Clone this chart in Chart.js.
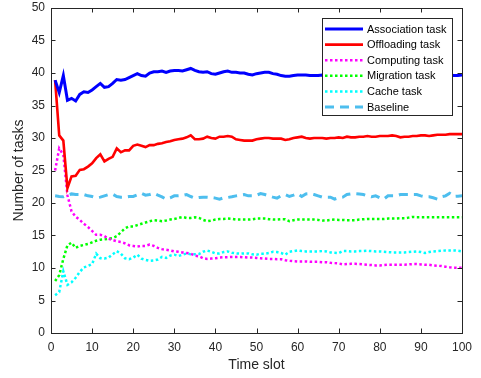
<!DOCTYPE html>
<html>
<head>
<meta charset="utf-8">
<script src="https://cdn.jsdelivr.net/npm/chart.js@4.4.1/dist/chart.umd.min.js"></script>
<style>
  html, body { margin: 0; padding: 0; background: #fff; }
  #wrap { width: 481px; height: 378px; position: relative; }
</style>
</head>
<body>
<div id="wrap"><canvas id="taskChart"></canvas></div>
<script>
// ── DATA ─────────────────────────────────────────────────────────────
const timeSlots = Array.from({ length: 100 }, (_, i) => i + 1);
const xTicks = [0, 10, 20, 30, 40, 50, 60, 70, 80, 90, 100];
const yTicks = [0, 5, 10, 15, 20, 25, 30, 35, 40, 45, 50];

const associationTask = [
  38.9, 37.0, 39.6, 35.8, 36.1, 35.7, 36.7, 37.1, 37.0, 37.4,
  37.9, 38.4, 37.8, 37.9, 38.4, 39.0, 38.9, 39.0, 39.3, 39.6,
  39.9, 39.6, 39.5, 40.0, 40.2, 40.2, 40.3, 40.1, 40.3, 40.4,
  40.4, 40.3, 40.5, 40.7, 40.4, 40.2, 40.1, 40.2, 39.9, 39.8,
  40.0, 40.2, 40.3, 40.1, 40.1, 40.0, 40.0, 39.8, 39.7, 39.9,
  40.0, 40.1, 40.1, 39.9, 39.8, 39.6, 39.5, 39.5, 39.6, 39.7,
  39.7, 39.7, 39.6, 39.6, 39.6, 39.7, 39.6, 39.7, 39.8, 39.7,
  39.6, 39.6, 39.7, 39.8, 39.7, 39.6, 39.7, 39.7, 39.8, 39.7,
  39.6, 39.7, 39.7, 39.6, 39.7, 39.8, 39.7, 39.6, 39.6, 39.7,
  39.7, 39.6, 39.7, 39.7, 39.6, 39.6, 39.7, 39.6, 39.6, 39.7
];
const offloadingTask = [
  38.9, 30.4, 29.6, 22.3, 24.1, 24.2, 25.1, 25.2, 25.6, 26.1,
  26.9, 27.5, 26.4, 26.8, 27.1, 28.4, 27.8, 28.1, 28.1, 28.8,
  29.0, 28.8, 28.6, 28.9, 28.9, 29.1, 29.2, 29.4, 29.5, 29.7,
  29.8, 29.9, 30.1, 30.4, 29.8, 29.8, 29.9, 30.2, 30.0, 29.9,
  30.2, 30.2, 30.3, 30.2, 29.8, 29.7, 29.6, 29.6, 29.6, 29.8,
  29.9, 30.0, 30.0, 29.9, 29.9, 29.9, 29.7, 29.8, 30.0, 30.1,
  30.2, 30.0, 29.9, 30.0, 30.0, 30.0, 29.9, 30.0, 30.0, 30.1,
  30.0, 30.2, 30.1, 30.1, 30.2, 30.2, 30.3, 30.2, 30.2, 30.3,
  30.3, 30.3, 30.4, 30.3, 30.1, 30.2, 30.2, 30.3, 30.3, 30.4,
  30.4, 30.3, 30.4, 30.5, 30.5, 30.5, 30.6, 30.6, 30.6, 30.6
];
const computingTask = [
  25.0, 28.4, 27.4, 21.2, 18.7, 17.9, 17.4, 16.8, 16.3, 15.7,
  15.1, 15.1, 14.9, 14.5, 14.3, 14.1, 14.0, 13.8, 13.5, 13.4,
  13.3, 13.4, 13.4, 13.6, 13.4, 13.1, 12.9, 12.8, 12.7, 12.55,
  12.5, 12.4, 12.3, 12.2, 11.9, 11.8, 11.5, 11.4, 11.45, 11.5,
  11.6, 11.65, 11.65, 11.7, 11.7, 11.7, 11.65, 11.6, 11.6, 11.55,
  11.5, 11.45, 11.4, 11.4, 11.35, 11.35, 11.2, 11.1, 11.05, 11.0,
  11.0, 11.0, 10.95, 10.95, 10.95, 10.9, 10.9, 10.8, 10.75, 10.7,
  10.55, 10.6, 10.65, 10.65, 10.6, 10.55, 10.5, 10.45, 10.4, 10.4,
  10.45, 10.5, 10.5, 10.5, 10.5, 10.5, 10.55, 10.6, 10.6, 10.55,
  10.5, 10.5, 10.4, 10.35, 10.3, 10.2, 10.1, 10.05, 10.05, 10.05
];
const migrationTask = [
  8.0, 8.9, 11.4, 13.5, 13.9, 13.1, 13.4, 13.55, 13.7, 13.95,
  14.2, 14.35, 14.4, 14.5, 14.6, 14.9, 15.5, 16.1, 16.4, 16.4,
  16.6, 16.8, 17.0, 17.2, 17.35, 17.3, 17.2, 17.3, 17.45, 17.55,
  17.7, 17.85, 17.7, 17.7, 17.8, 17.7, 17.4, 17.2, 17.3, 17.45,
  17.55, 17.55, 17.6, 17.55, 17.45, 17.45, 17.45, 17.45, 17.5, 17.6,
  17.6, 17.6, 17.5, 17.45, 17.45, 17.5, 17.5, 17.2, 17.35, 17.45,
  17.45, 17.45, 17.45, 17.45, 17.4, 17.3, 17.3, 17.4, 17.45, 17.4,
  17.4, 17.35, 17.35, 17.35, 17.45, 17.5, 17.55, 17.55, 17.55, 17.55,
  17.55, 17.6, 17.6, 17.6, 17.65, 17.65, 17.75, 17.85, 17.8, 17.8,
  17.8, 17.8, 17.8, 17.8, 17.8, 17.8, 17.8, 17.8, 17.8, 17.8
];
const cacheTask = [
  5.8, 6.3, 9.5, 7.4, 7.8, 8.5, 9.4, 10.1, 10.3, 10.6,
  12.2, 11.5, 11.45, 11.6, 12.1, 12.6, 12.2, 11.5, 11.35, 11.6,
  12.05, 11.45, 11.25, 11.1, 11.15, 11.3, 11.7, 11.55, 11.9, 12.05,
  11.85, 12.05, 12.25, 12.1, 12.1, 12.15, 12.5, 12.7, 12.5, 12.25,
  12.25, 12.45, 12.55, 12.35, 12.25, 12.2, 12.25, 12.25, 12.1, 12.05,
  12.2, 12.2, 12.3, 12.5, 12.45, 12.3, 12.05, 12.5, 12.6, 12.7,
  12.6, 12.55, 12.55, 12.55, 12.55, 12.6, 12.55, 12.4, 12.35, 12.3,
  12.6, 12.6, 12.55, 12.55, 12.6, 12.6, 12.65, 12.6, 12.55, 12.55,
  12.5, 12.45, 12.4, 12.4, 12.4, 12.4, 12.45, 12.5, 12.55, 12.45,
  12.3, 12.45, 12.55, 12.6, 12.65, 12.7, 12.7, 12.7, 12.65, 12.55
];
const baseline = [
  21.1, 21.0, 20.95, 21.2, 21.4, 21.3, 21.3, 21.3, 21.1, 21.0,
  20.8, 20.9, 21.1, 21.3, 21.35, 21.0, 20.9, 20.9, 21.0, 21.0,
  21.25, 21.5, 21.2, 21.3, 21.5, 21.2, 20.95, 20.6, 20.8, 21.1,
  21.1, 21.15, 21.3, 21.0, 20.75, 20.85, 20.9, 20.9, 20.85, 20.75,
  20.6, 20.8, 20.85, 20.95, 21.1, 21.2, 21.3, 21.1, 21.1, 21.2,
  21.45, 21.3, 21.1, 20.9, 20.75, 21.1, 21.3, 21.0, 21.2, 21.45,
  21.0, 21.4, 21.45, 21.3, 21.1, 20.9, 20.9, 20.9, 20.6, 20.8,
  20.9, 21.3, 21.4, 21.45, 21.4, 21.3, 21.1, 20.95, 21.1, 20.8,
  20.6, 21.1, 21.1, 21.1, 21.3, 21.3, 21.3, 21.3, 21.3, 21.1,
  20.95, 20.95, 20.8, 20.6, 20.95, 21.1, 21.5, 21.0, 21.05, 21.1
];

// ── STYLE ────────────────────────────────────────────────────────────
const FONT = '"Liberation Sans", Arial, Helvetica, sans-serif';
const AXIS_COLOR = '#262626';
const DOT = [2.5, 2.5];

const toPoints = vals => vals.map((v, i) => ({ x: timeSlots[i], y: v }));

const datasets = [
  { label: 'Association task', data: toPoints(associationTask), borderColor: '#0000ff', borderWidth: 3, borderDash: [] },
  { label: 'Offloading task',  data: toPoints(offloadingTask),  borderColor: '#ff0000', borderWidth: 2.6, borderDash: [] },
  { label: 'Computing task',   data: toPoints(computingTask),   borderColor: '#ff00ff', borderWidth: 2.5, borderDash: DOT },
  { label: 'Migration task',   data: toPoints(migrationTask),   borderColor: '#00ff00', borderWidth: 2.5, borderDash: DOT },
  { label: 'Cache task',       data: toPoints(cacheTask),       borderColor: '#00ffff', borderWidth: 2.5, borderDash: DOT },
  { label: 'Baseline',         data: toPoints(baseline),        borderColor: '#4dbeee', borderWidth: 3, borderDash: [9, 6] },
].map(d => ({ ...d, pointRadius: 0, tension: 0, fill: false }));

// inward tick marks and the axes box, drawn over the lines
const boxTicks = {
  id: 'boxTicks',
  afterDatasetsDraw(chart) {
    const { ctx, chartArea: a, scales: { x, y } } = chart;
    const len = 4.5;
    ctx.save();
    ctx.strokeStyle = AXIS_COLOR;
    ctx.lineWidth = 1;
    ctx.beginPath();
    xTicks.forEach(v => {
      const px = Math.round(x.getPixelForValue(v)) + 0.5;
      ctx.moveTo(px, a.bottom); ctx.lineTo(px, a.bottom - len);
      ctx.moveTo(px, a.top);    ctx.lineTo(px, a.top + len);
    });
    yTicks.forEach(v => {
      const py = Math.round(y.getPixelForValue(v)) + 0.5;
      ctx.moveTo(a.left, py);  ctx.lineTo(a.left + len, py);
      ctx.moveTo(a.right, py); ctx.lineTo(a.right - len, py);
    });
    ctx.stroke();
    ctx.strokeRect(Math.round(a.left) + 0.5, Math.round(a.top) + 0.5,
      Math.round(a.right - a.left), Math.round(a.bottom - a.top));
    ctx.restore();
  }
};

// boxed legend in the upper right corner of the plot
const boxLegend = {
  id: 'boxLegend',
  afterDraw(chart) {
    const { ctx } = chart;
    const left = 322, top = 18, w = 130, h = 97;
    const rowH = 15.6, first = 29;
    ctx.save();
    ctx.fillStyle = '#fff';
    ctx.fillRect(left, top, w, h);
    ctx.strokeStyle = AXIS_COLOR;
    ctx.lineWidth = 1;
    ctx.strokeRect(left + 0.5, top + 0.5, w, h);
    ctx.font = '11px ' + FONT;
    ctx.textBaseline = 'middle';
    chart.data.datasets.forEach((d, i) => {
      const cy = first + i * rowH;
      ctx.strokeStyle = d.borderColor;
      ctx.lineWidth = d.borderWidth;
      ctx.setLineDash(d.borderDash);
      ctx.beginPath();
      ctx.moveTo(left + 3, cy);
      ctx.lineTo(left + 41, cy);
      ctx.stroke();
      ctx.setLineDash([]);
      ctx.fillStyle = '#000';
      ctx.fillText(d.label, left + 45, cy + 0.5);
    });
    ctx.restore();
  }
};

new Chart(document.getElementById('taskChart'), {
  type: 'line',
  data: { datasets },
  plugins: [boxTicks, boxLegend],
  options: {
    responsive: true, maintainAspectRatio: false, animation: false,
    layout: { padding: { top: 8, right: 19, left: 0, bottom: 0 } },
    plugins: { legend: { display: false }, tooltip: { enabled: false } },
    scales: {
      x: {
        type: 'linear', min: 0, max: 100,
        afterBuildTicks: s => { s.ticks = xTicks.map(v => ({ value: v })); },
        afterFit: s => { s.height = 45; s.paddingLeft = 0; s.paddingRight = 0; },
        grid: { display: false, drawTicks: false }, border: { display: false },
        ticks: { color: AXIS_COLOR, font: { family: FONT, size: 12 }, padding: 7, maxRotation: 0 },
        title: { display: true, text: 'Time slot', color: AXIS_COLOR, font: { family: FONT, size: 14 }, padding: { top: 0, bottom: 4 } }
      },
      y: {
        type: 'linear', min: 0, max: 50,
        afterBuildTicks: s => { s.ticks = yTicks.map(v => ({ value: v })); },
        afterFit: s => { s.width = 51; s.paddingTop = 0; s.paddingBottom = 0; },
        grid: { display: false, drawTicks: false }, border: { display: false },
        ticks: { color: AXIS_COLOR, font: { family: FONT, size: 12 }, padding: 6 },
        title: { display: true, text: 'Number of tasks', color: AXIS_COLOR, font: { family: FONT, size: 14 }, padding: { top: 11, bottom: 0 } }
      }
    }
  }
});
</script>
</body>
</html>
